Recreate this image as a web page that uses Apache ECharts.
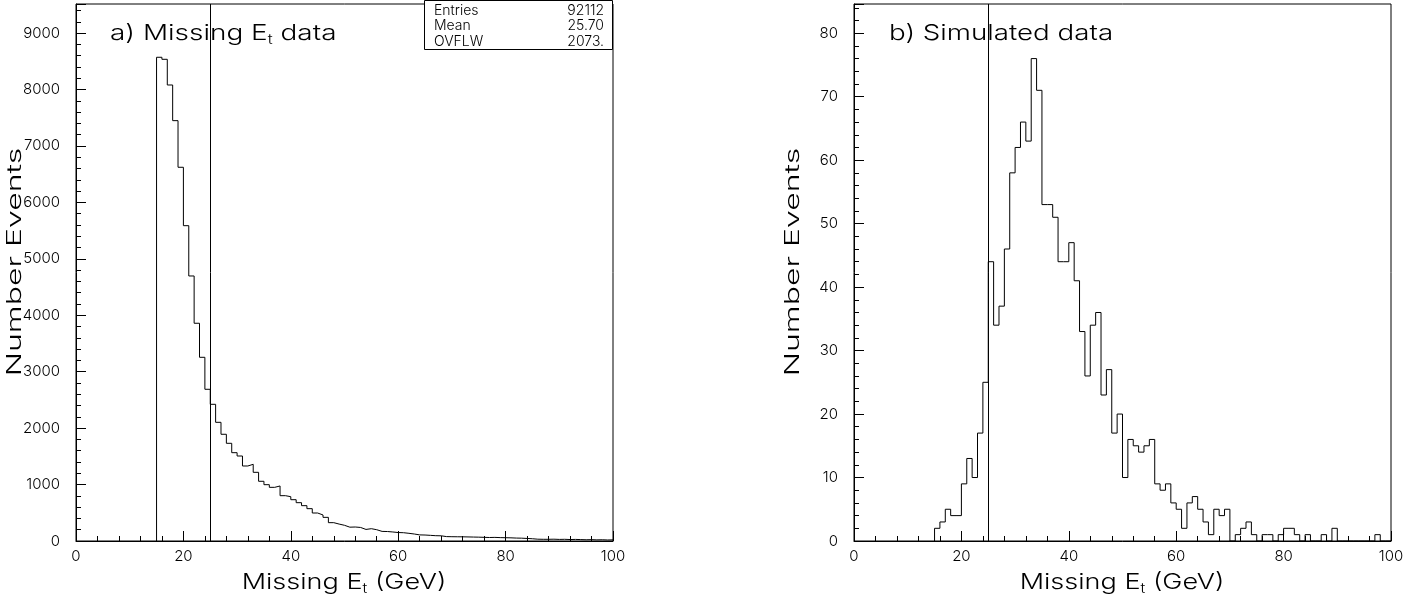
<!DOCTYPE html>
<html>
<head>
<meta charset="utf-8">
<script src="https://cdn.jsdelivr.net/npm/echarts@6/dist/echarts.min.js"></script>
<style>
  html, body { margin: 0; padding: 0; background: #fff; }
  #chart { width: 1421px; height: 602px; }
</style>
</head>
<body>
<div id="chart"></div>
<script>
// ---- Data (1 GeV bins) ----
const xTickValues = [0, 20, 40, 60, 80, 100];
const leftBinStart = 15;
const leftCounts = [
  8571, 8535, 8080, 7448, 6622, 5587, 4696, 3858, 3255, 2688,   // 15-24
  2422, 2103, 1891, 1731, 1565, 1506, 1329, 1359, 1217, 1058,   // 25-34
  998, 951, 975, 803, 785, 732, 679, 626, 573, 496,             // 35-44
  461, 419, 325, 300, 278, 245, 248, 240, 205, 218,             // 45-54
  200, 170, 168, 160, 150, 147, 136, 124, 108, 106,             // 55-64
  100, 94, 92, 78, 76, 75, 74, 72, 70, 68,                      // 65-74
  65, 62, 64, 60, 58, 56, 52, 50, 45, 40,                       // 75-84
  32, 30, 30, 32, 28, 30, 26, 28, 25, 22,                       // 85-94
  24, 20, 22, 18, 20                                            // 95-99
];
const rightBinStart = 15;
const rightCounts = [
  2, 3, 5, 4, 4, 9, 13, 10, 17, 25,        // 15-24
  44, 34, 37, 46, 58, 62, 66, 63, 76, 71,  // 25-34
  53, 53, 51, 44, 44, 47, 41, 33, 26, 34,  // 35-44
  36, 23, 27, 17, 20, 10, 16, 15, 14, 15,  // 45-54
  16, 9, 8, 9, 6, 5, 2, 6, 7, 5,           // 55-64
  3, 1, 5, 4, 5, 0, 1, 2, 3, 1,            // 65-74
  0, 1, 1, 0, 1, 2, 2, 1, 0, 1,            // 75-84
  0, 0, 1, 0, 2, 0, 0, 0, 0, 0,            // 85-94
  0, 0, 1, 0, 0                            // 95-99
];
const cutLeft = 25;
const cutRight = 25;
const statsLabels = ['Entries', 'Mean', 'OVFLW'];
const statsValues = ['92112', '25.70', '2073.'];
const leftYMax = 9515;
const rightYMax = 84.6;

function histPoints(start, counts) {
  const pts = [[start, 0]];
  counts.forEach((c, i) => pts.push([start + i, c]));
  pts.push([start + counts.length, counts[counts.length - 1]]);
  return pts;
}

const FONT = "Inter, 'DejaVu Sans', sans-serif";
const FW = 300;
const chart = echarts.init(document.getElementById('chart'), null, { renderer: 'canvas' });

function xAxisCfg(gi) {
  return {
    gridIndex: gi, type: 'value', min: 0, max: 100, interval: 20,
    axisLine: { show: true, onZero: false, lineStyle: { color: '#000', width: 1 } },
    axisTick: { show: true, inside: true, length: 10, lineStyle: { color: '#000', width: 1 } },
    minorTick: { show: true, splitNumber: 5, length: 5, lineStyle: { color: '#000', width: 1 } },
    splitLine: { show: false },
    axisLabel: { color: '#000', fontSize: 15, fontFamily: FONT, fontWeight: FW, margin: 8,
      formatter: v => xTickValues.indexOf(v) >= 0 ? String(v) : '' }
  };
}
function yAxisCfg(gi, max, interval) {
  return {
    gridIndex: gi, type: 'value', min: 0, max: max, interval: interval,
    axisLine: { show: true, onZero: false, lineStyle: { color: '#000', width: 1 } },
    axisTick: { show: true, inside: true, length: 10, lineStyle: { color: '#000', width: 1 } },
    minorTick: { show: true, splitNumber: 5, length: 5, lineStyle: { color: '#000', width: 1 } },
    splitLine: { show: false },
    axisLabel: { color: '#000', fontSize: 15, fontFamily: FONT, fontWeight: FW, margin: 16, showMaxLabel: false,
      formatter: v => (Math.abs(v / interval - Math.round(v / interval)) < 1e-9) ? String(v) : '' }
  };
}
function cutLine(x) {
  return {
    symbol: ['none', 'none'], silent: true, animation: false,
    label: { show: false },
    lineStyle: { color: '#000', width: 1, type: 'solid' },
    data: [{ xAxis: x }]
  };
}

const titleRich = {
  a: { fontSize: 22, fontFamily: FONT, fontWeight: FW, fill: '#000', lineHeight: 28 },
  s: { fontSize: 13, fontFamily: FONT, fontWeight: FW, fill: '#000', lineHeight: 10, verticalAlign: 'bottom' },
  ny: { fontSize: 20, fontFamily: FONT, fontWeight: FW, fill: '#000', lineHeight: 24 }
};

function txt(x, y, text, opts) {
  return Object.assign({
    type: 'text', x: x, y: y, z: 100,
    style: Object.assign({ text: text, fontSize: 22, fontFamily: FONT, fontWeight: FW, fill: '#000',
      align: 'left', verticalAlign: 'middle', rich: titleRich }, (opts && opts.style) || {})
  }, (opts && opts.el) || {});
}

const graphics = [
  // titles
  txt(110, 33, '{a|a) Missing E}{s|t}{a| data}', { el: { scaleX: 1.27 } }),
  txt(889, 33, '{a|b) Simulated data}', { el: { scaleX: 1.26 } }),
  // x axis names
  txt(344, 582, '{a|Missing E}{s|t}{a| (GeV)}', { style: { align: 'center' }, el: { scaleX: 1.23 } }),
  txt(1122, 582, '{a|Missing E}{s|t}{a| (GeV)}', { style: { align: 'center' }, el: { scaleX: 1.23 } }),
  // y axis names
  txt(15, 262, '{ny|Number Events}', { style: { align: 'center' }, el: { rotation: Math.PI / 2, scaleX: 1.6 } }),
  txt(793, 262, '{ny|Number Events}', { style: { align: 'center' }, el: { rotation: Math.PI / 2, scaleX: 1.6 } }),
  // stats box
  { type: 'rect', z: 99, shape: { x: 424.5, y: 0.5, width: 188, height: 49 },
    style: { fill: '#fff', stroke: '#000', lineWidth: 1 } }
];
statsLabels.forEach((lab, i) => {
  graphics.push({ type: 'text', z: 101, x: 434, y: 10.5 + i * 15.5,
    style: { text: lab, fontSize: 14, fontFamily: FONT, fontWeight: FW, fill: '#000', align: 'left', verticalAlign: 'middle' } });
  graphics.push({ type: 'text', z: 101, x: 604, y: 10.5 + i * 15.5,
    style: { text: statsValues[i], fontSize: 14, fontFamily: FONT, fontWeight: FW, fill: '#000', align: 'right', verticalAlign: 'middle' } });
});

chart.setOption({
  animation: false,
  backgroundColor: '#fff',
  grid: [
    { left: 76, top: 4, width: 537, height: 537, show: true, borderColor: '#000', borderWidth: 1, backgroundColor: 'transparent' },
    { left: 854, top: 4, width: 537, height: 537, show: true, borderColor: '#000', borderWidth: 1, backgroundColor: 'transparent' }
  ],
  xAxis: [xAxisCfg(0), xAxisCfg(1)],
  yAxis: [yAxisCfg(0, leftYMax, 1000), yAxisCfg(1, rightYMax, 10)],
  series: [
    { type: 'line', xAxisIndex: 0, yAxisIndex: 0, data: histPoints(leftBinStart, leftCounts),
      step: 'end', symbol: 'none', showSymbol: false, lineStyle: { color: '#000', width: 1 },
      markLine: cutLine(cutLeft) },
    { type: 'line', xAxisIndex: 1, yAxisIndex: 1, data: histPoints(rightBinStart, rightCounts),
      step: 'end', symbol: 'none', showSymbol: false, lineStyle: { color: '#000', width: 1 },
      markLine: cutLine(cutRight) }
  ],
  graphic: graphics
});
</script>
</body>
</html>
